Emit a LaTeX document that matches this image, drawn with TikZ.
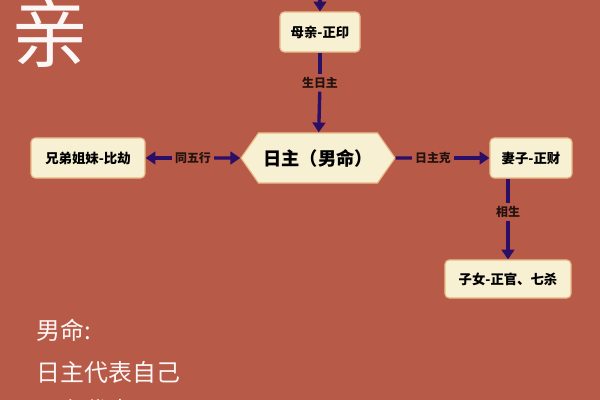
\documentclass[tikz,border=0pt]{standalone}
\usepackage{fontspec}
\setmainfont{Noto Sans CJK SC}
\usetikzlibrary{shapes.symbols,arrows.meta}
\definecolor{bg}{HTML}{B85A48}
\definecolor{cream}{HTML}{F7F0D2}
\definecolor{rim}{HTML}{E8B887}
\definecolor{ink}{HTML}{2B0E66}
\tikzset{
  kin/.style={draw=rim,fill=cream,rounded corners=3pt,thick,font=\bfseries\fontsize{9.5}{11}\selectfont,
              minimum height=1cm,inner xsep=6pt},
  rel/.style={font=\bfseries\fontsize{8.5}{10}\selectfont,text=black!80!bg,inner sep=2pt},
  arr/.style={ink,line width=2.4pt,-{Triangle[length=7pt,width=9pt]}},
  note/.style={text=white!95!bg,font=\fontsize{17}{20}\selectfont,anchor=west}
}
\begin{document}
\begin{tikzpicture}[x=0.025cm,y=-0.025cm]
\fill[bg] (0,0) rectangle (600,400);
\useasboundingbox (0,0) rectangle (600,400);

\node[text=white!95!bg,font=\fontsize{55}{60}\selectfont] (qin) at (50,32) {亲};

\node[kin,minimum width=2cm] (mother) at (320,32) {母亲-正印};
\node[draw=rim,fill=cream,thick,signal,signal to=east and west,signal pointer angle=110,
      minimum width=3.65cm,minimum height=1.25cm,font=\bfseries\fontsize{13}{15}\selectfont] (self) at (318,158) {日主（男命）};
\node[kin,minimum width=2.85cm] (sibling) at (88,158) {兄弟姐妹-比劫};
\node[kin,minimum width=2.05cm] (wife) at (531,158) {妻子-正财};
\node[kin,minimum width=3.15cm,minimum height=0.95cm] (child) at (508,279) {子女-正官、七杀};

\node[rel] (l1) at (320,83) {生日主};
\node[rel] (l2) at (193,158) {同五行};
\node[rel] (l3) at (433,158) {日主克};
\node[rel] (l4) at (508,212) {相生};

\coordinate (top) at (320,-5);
\draw[arr] (top) -- (mother);
\draw[arr,-] (mother) -- (l1);
\draw[arr] (l1) -- (self);
\draw[arr] (l2) -- (sibling);
\draw[arr] (l2) -- (self);
\draw[arr,-] (self) -- (l3);
\draw[arr] (l3) -- (wife);
\draw[arr,-] (wife.south -| l4) -- (l4);
\draw[arr] (l4) -- (child);

\node[note] (n1) at (32,330) {男命:};
\node[note] (n2) at (32,372) {日主代表自己};
\node[note] (n3) at (32,410) {日主代表};
\end{tikzpicture}
\end{document}
